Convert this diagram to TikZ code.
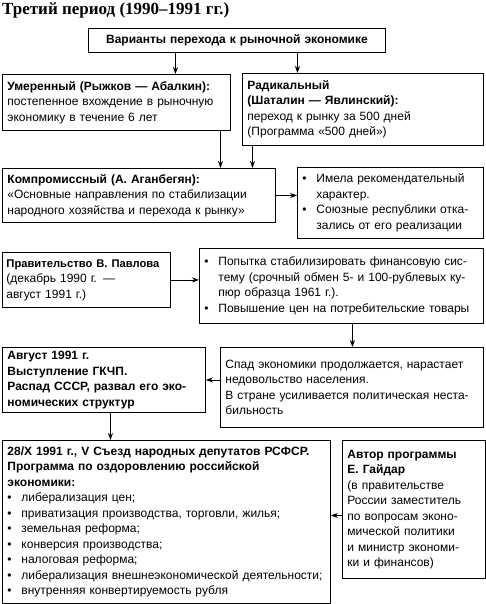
\documentclass[tikz,border=0pt]{standalone}
\usepackage{fontspec}
\setmainfont{Liberation Sans}
\newfontfamily\titlefont{Liberation Serif}
\usetikzlibrary{arrows.meta}
\newcommand\bl{\makebox[14pt][l]{\textbullet}}
\newcommand\ind{\hspace*{14pt}}
\begin{document}
\begin{tikzpicture}[x=1pt,y=-1pt,
  bx/.style={draw, line width=0.9pt, anchor=north west, inner xsep=5pt, inner ysep=2pt,
    align=left, font=\fontsize{12}{15.5}\selectfont},
  arr/.style={-{Stealth[length=7pt,width=5pt]}, line width=0.9pt}]
\useasboundingbox (0,0) rectangle (486,604);
\node[anchor=west, inner sep=0pt, font=\titlefont\bfseries\fontsize{17}{20}\selectfont] (title) at (2,10) {Третий период (1990–1991 гг.)};

\node[bx, align=center, text width=287pt, minimum height=24pt] (b1) at (88,28) {\textbf{Варианты перехода к рыночной экономике}};
\node[bx, text width=218pt, minimum height=56pt] (b2) at (2,74) {\textbf{Умеренный (Рыжков — Абалкин):}\\постепенное вхождение в рыночную\\экономику в течение 6 лет};
\node[bx, text width=231pt, minimum height=72pt] (b3) at (242,73) {\textbf{Радикальный}\\\textbf{(Шаталин — Явлинский):}\\переход к рынку за 500 дней\\(Программа «500 дней»)};
\node[bx, text width=263pt, minimum height=54pt] (b4) at (2,168) {\textbf{Компромиссный (А. Аганбегян):}\\«Основные направления по стабилизации\\народного хозяйства и перехода к рынку»};
\node[bx, text width=176pt, minimum height=71pt] (b5) at (297,167) {\bl Имела рекомендательный\\\ind характер.\\\bl Союзные республики отка-\\\ind зались от его реализации};
\node[bx, inner xsep=4pt, text width=160pt, minimum height=55pt] (b6) at (2,252) {\mbox{\fontsize{11.2}{15.5}\selectfont\textbf{Правительство В. Павлова}}\\(декабрь 1990 г. —\\август 1991 г.)};
\node[bx, text width=274pt, minimum height=75pt] (b7) at (199,248) {\bl Попытка стабилизировать финансовую сис-\\\ind тему (срочный обмен 5- и 100-рублевых ку-\\\ind пюр образца 1961 г.).\\\bl Повышение цен на потребительские товары};
\node[bx, text width=253pt, minimum height=80pt] (b8) at (220,347) {Спад экономики продолжается, нарастает\\недовольство населения.\\В стране усиливается политическая неста-\\бильность};
\node[bx, text width=193pt, minimum height=65pt, font=\bfseries\fontsize{12}{15.5}\selectfont] (b9) at (2,347) {Август 1991 г.\\Выступление ГКЧП.\\Распад СССР, развал его эко-\\номических структур};
\node[bx, text width=318pt, minimum height=163pt] (b10) at (2,440) {\textbf{28/X 1991 г., V Съезд народных депутатов РСФСР.}\\\textbf{Программа по оздоровлению российской}\\\textbf{экономики:}\\\bl либерализация цен;\\\bl приватизация производства, торговли, жилья;\\\bl земельная реформа;\\\bl конверсия производства;\\\bl налоговая реформа;\\\bl либерализация внешнеэкономической деятельности;\\\bl внутренняя конвертируемость рубля};
\node[bx, text width=133pt, minimum height=138pt] (b11) at (342,440) {\textbf{Автор программы}\\\textbf{Е. Гайдар}\\(в правительстве\\России заместитель\\по вопросам эконо-\\мической политики\\и министр экономи-\\ки и финансов)};

\coordinate (p1) at ([xshift=-61.5pt]b1.south);
\coordinate (p2) at ([xshift=60.5pt]b1.south);
\coordinate (p3) at ([xshift=104pt]b2.south);
\coordinate (p4) at ([xshift=-110.5pt]b3.south);
\coordinate (p5) at ([xshift=11pt]b7.south);
\coordinate (p6) at ([xshift=6.5pt]b9.south);
\coordinate (p7) at ([yshift=-6pt]b11.west);
\draw[arr] (p1) -- (p1 |- b2.north);
\draw[arr] (p2) -- (p2 |- b3.north);
\draw[arr] (p3) -- (p3 |- b4.north);
\draw[arr] (p4) -- (p4 |- b4.north);
\draw[arr] (b4.east) -- (b4.east -| b5.west);
\draw[arr] (b6.east) -- (b6.east -| b7.west);
\draw[arr] (p5) -- (p5 |- b8.north);
\draw[arr] (b9.east -| b8.west) -- (b9.east);
\draw[arr] (p6) -- (p6 |- b10.north);
\draw[arr] (p7) -- (p7 -| b10.east);
\end{tikzpicture}
\end{document}
